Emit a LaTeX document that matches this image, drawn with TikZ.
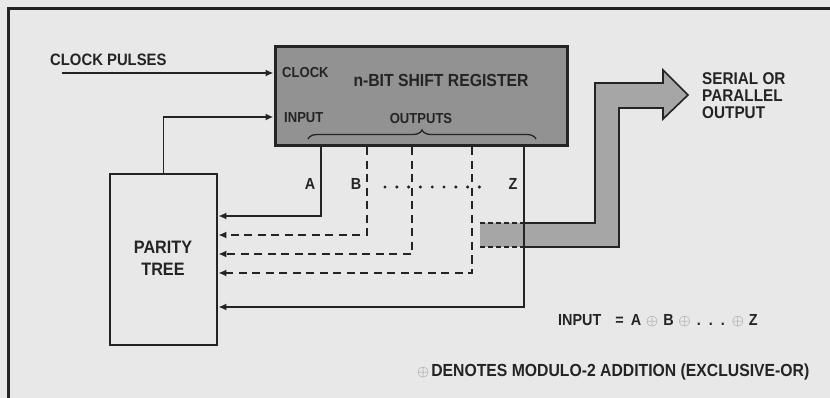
\documentclass[tikz,border=0pt]{standalone}
\usepackage{fontspec}
\setmainfont{Liberation Sans}[FakeStretch=0.9]
\usetikzlibrary{arrows.meta,decorations.pathreplacing}
\definecolor{bg}{RGB}{232,232,232}
\definecolor{ink}{RGB}{36,36,36}
\definecolor{regfill}{RGB}{146,146,146}
\definecolor{arrfill}{RGB}{166,166,166}
\definecolor{xorc}{RGB}{140,140,140}
\newcommand{\xo}{{\color{xorc}\scalebox{0.9}{$\oplus$}}}
\begin{document}
\begin{tikzpicture}[x=1pt,y=-1pt,
  conn/.style={draw=ink,line width=1.7pt},
  arr/.style={conn,-{Latex[length=8pt,width=7pt]}},
  dsh/.style={draw=ink,line width=2.1pt,dash pattern=on 8pt off 5.5pt},
  dsharr/.style={dsh,-{Latex[length=8pt,width=7pt]}},
  txt/.style={text=ink,inner sep=0pt,font=\bfseries\fontsize{#1}{#1}\selectfont},
  txt/.default=16,
  outline/.style={draw=ink,line width=1.6pt}]
\fill[bg] (0,0) rectangle (830,398);
\useasboundingbox (0,0) rectangle (830,398);
% frame
\draw[ink,line width=3pt] (8,398) -- (8,9) -- (830,9);
% gray output arrow
\fill[arrfill] (480,223) -- (595,223) -- (595,83) -- (663,83) -- (663,70) -- (688,95)
  -- (663,119) -- (663,108) -- (619,108) -- (619,247) -- (480,247) -- cycle;
\draw[outline,line join=miter] (525,223) -- (595,223) -- (595,83) -- (663,83) -- (663,70) -- (688,95)
  -- (663,119) -- (663,108) -- (619,108) -- (619,247) -- (525,247);
\draw[draw=ink,line width=1.5pt,dash pattern=on 5pt off 3pt] (480,223) -- (525,223);
\draw[draw=ink,line width=1.5pt,dash pattern=on 5pt off 3pt] (480,247) -- (525,247);
% register
\node[draw=ink,line width=3pt,fill=regfill,minimum width=292pt,minimum height=99pt,inner sep=0pt] (reg) at (421,96.5) {};
% parity tree
\node[draw=ink,line width=2.7pt,minimum width=107pt,minimum height=171pt,inner sep=0pt] (par) at (163.5,259.5) {};
% texts
\node[txt=16.5,anchor=base west] (cpl) at (50,66) {CLOCK PULSES};
\node[txt=14.5,anchor=base west] (clk) at (282,78) {CLOCK};
\node[txt=17.5,anchor=base] (ttl) at (441,87) {n-BIT SHIFT REGISTER};
\node[txt=14.5,anchor=base west] (inp) at (284,123) {INPUT};
\node[txt=14.5,anchor=base] (outs) at (421,123.5) {OUTPUTS};
\node[txt=16,anchor=base] (la) at (310,190) {A};
\node[txt=16,anchor=base] (lb) at (356,190) {B};
\node[txt=16,anchor=base] (lz) at (513,190) {Z};
\node[txt=17,anchor=base west] (s1) at (702,85) {SERIAL OR};
\node[txt=17,anchor=base west] (s2) at (702,102) {PARALLEL};
\node[txt=17,anchor=base west] (s3) at (702,118.5) {OUTPUT};
\node[txt=18,anchor=base] (p1) at (163,254) {PARITY};
\node[txt=18,anchor=base] (p2) at (163,275) {TREE};
\node[txt=16,anchor=base west] (eq) at (558,325) {INPUT\hspace{14pt}=\hspace{7pt}A\hspace{5pt}\xo\hspace{5pt}B\hspace{5pt}\xo\hspace{6pt}.\hspace{8pt}.\hspace{8pt}.\hspace{7pt}\xo\hspace{5pt}Z};
\node[txt=17.5,anchor=base west] (den) at (417,376) {\xo\hspace{2pt}DENOTES MODULO-2 ADDITION (EXCLUSIVE-OR)};
% brace
\draw[ink,line width=1.3pt,decorate,decoration={brace,amplitude=9pt}] (308,139) -- (536,139);
% clock and input
\coordinate (cp) at (62,73);
\draw[arr] (cp) -- (cp -| reg.west);
\coordinate (inport) at (reg.west |- 0,117);
\draw[arr] (par.north) |- (inport);
% outputs
\coordinate (oA) at (reg.south -| 321,0);
\coordinate (oB) at (reg.south -| 367,0);
\coordinate (oC) at (reg.south -| 412,0);
\coordinate (oD) at (reg.south -| 472,0);
\coordinate (oZ) at (reg.south -| 524,0);
\draw[arr] (oA) |- (par.east |- 0,216);
\draw[dsharr] (oB) |- (par.east |- 0,235);
\draw[dsharr] (oC) |- (par.east |- 0,254);
\draw[dsharr] (oD) |- (par.east |- 0,273);
\draw[arr] (oZ) |- (par.east |- 0,307);
% dots
\foreach \i in {0,...,8} \fill[ink] (385+\i*11.8,187) circle (1.7pt);
\end{tikzpicture}
\end{document}
